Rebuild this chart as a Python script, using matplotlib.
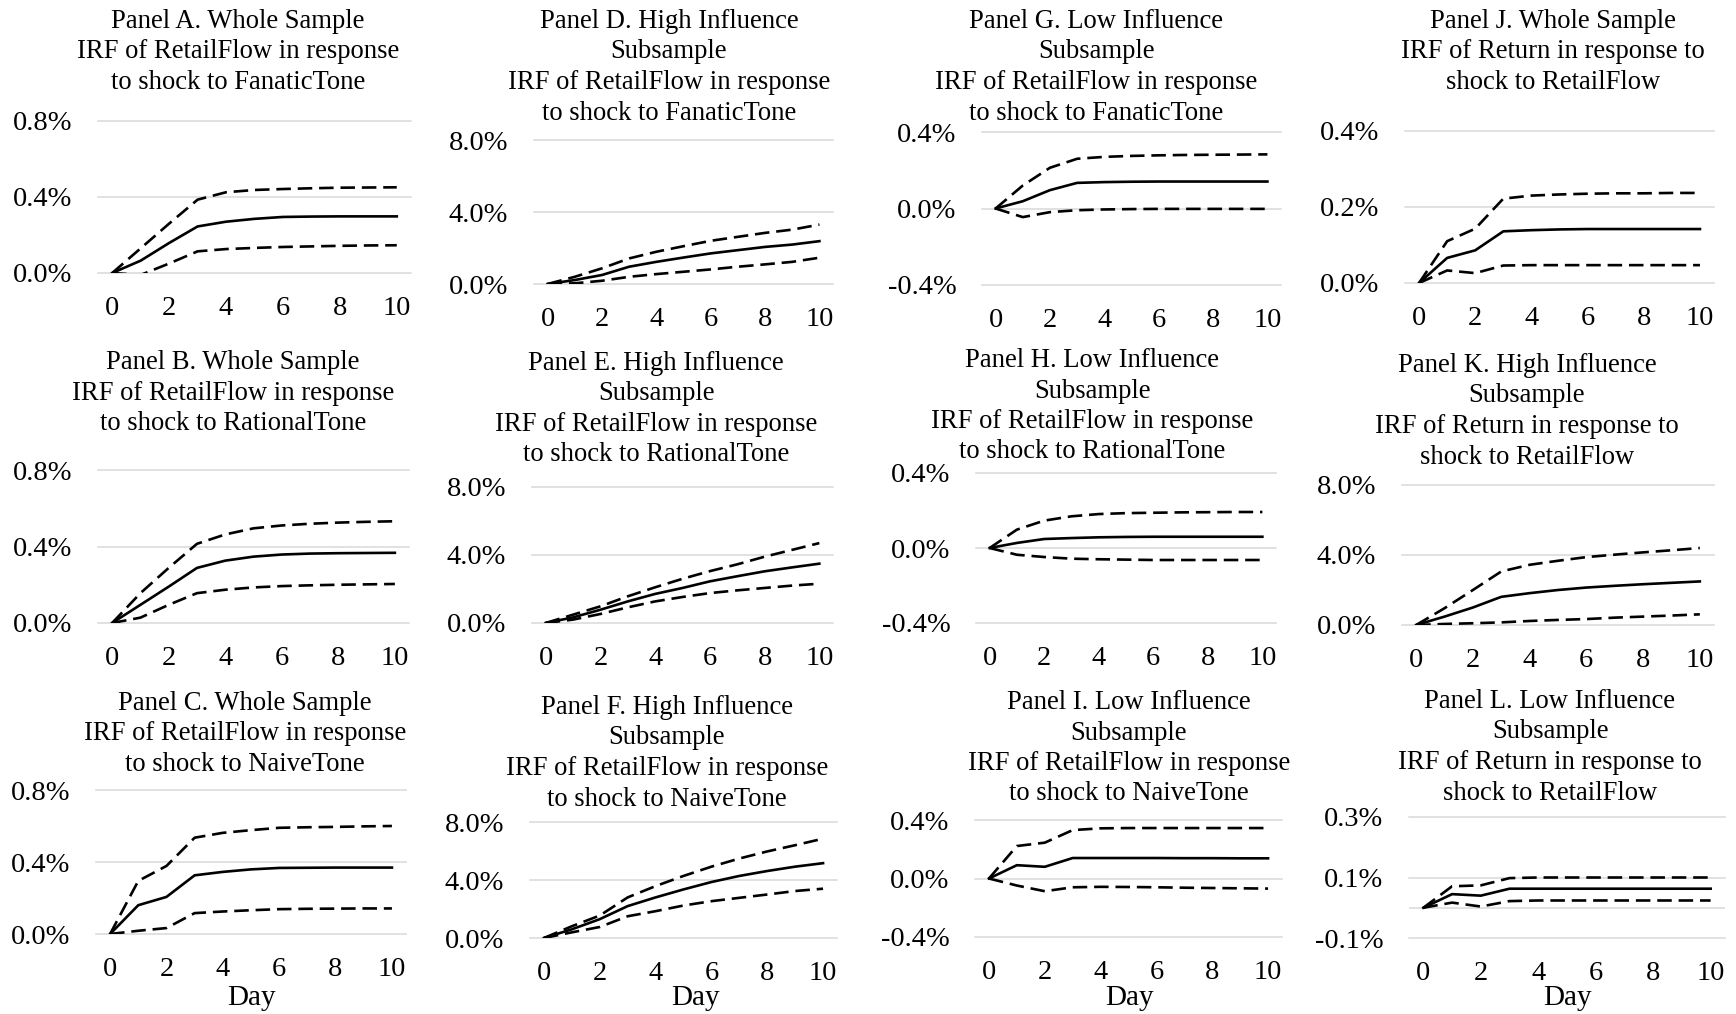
import matplotlib
matplotlib.use("Agg")
import matplotlib.pyplot as plt

plt.rcParams['font.family'] = ['Liberation Serif', 'DejaVu Serif']

# Horizon (days after the shock)
days = list(range(11))

# Impulse responses (in percent) with lower / upper confidence bands
a_irf = [0, 0.065, 0.158, 0.245, 0.270, 0.285, 0.295, 0.297, 0.298, 0.298, 0.298]
a_lo = [0, -0.010, 0.050, 0.114, 0.126, 0.132, 0.137, 0.140, 0.143, 0.145, 0.146]
a_hi = [0, 0.130, 0.260, 0.386, 0.425, 0.437, 0.442, 0.446, 0.449, 0.450, 0.451]

b_irf = [0, 0.095, 0.190, 0.288, 0.326, 0.347, 0.358, 0.363, 0.365, 0.366, 0.367]
b_lo = [0, 0.028, 0.095, 0.156, 0.174, 0.186, 0.193, 0.197, 0.200, 0.202, 0.204]
b_hi = [0, 0.156, 0.288, 0.414, 0.463, 0.495, 0.510, 0.519, 0.525, 0.529, 0.532]

c_irf = [0, 0.160, 0.206, 0.326, 0.345, 0.359, 0.367, 0.368, 0.369, 0.369, 0.369]
c_lo = [0, 0.018, 0.033, 0.116, 0.125, 0.132, 0.138, 0.140, 0.141, 0.142, 0.142]
c_hi = [0, 0.295, 0.378, 0.535, 0.562, 0.577, 0.590, 0.593, 0.595, 0.598, 0.600]

d_irf = [0, 0.22, 0.50, 0.96, 1.23, 1.47, 1.70, 1.88, 2.06, 2.19, 2.38]
d_lo = [0, 0.04, 0.18, 0.40, 0.55, 0.68, 0.81, 0.96, 1.09, 1.23, 1.46]
d_hi = [0, 0.40, 0.87, 1.42, 1.79, 2.10, 2.40, 2.62, 2.84, 3.02, 3.30]

e_irf = [0, 0.33, 0.78, 1.27, 1.71, 2.06, 2.45, 2.75, 3.04, 3.27, 3.49]
e_lo = [0, 0.20, 0.53, 0.92, 1.27, 1.53, 1.76, 1.92, 2.06, 2.20, 2.31]
e_hi = [0, 0.49, 0.98, 1.57, 2.10, 2.60, 3.05, 3.45, 3.90, 4.30, 4.70]

f_irf = [0, 0.60, 1.30, 2.20, 2.80, 3.35, 3.86, 4.28, 4.62, 4.92, 5.16]
f_lo = [0, 0.39, 0.76, 1.50, 1.85, 2.24, 2.54, 2.77, 3.00, 3.24, 3.40]
f_hi = [0, 0.81, 1.55, 2.80, 3.58, 4.28, 4.92, 5.48, 5.97, 6.40, 6.85]

g_irf = [0, 0.038, 0.096, 0.134, 0.138, 0.140, 0.141, 0.141, 0.141, 0.141, 0.141]
g_lo = [0, -0.045, -0.019, -0.009, -0.005, -0.003, -0.002, -0.002, -0.002, -0.002, -0.002]
g_hi = [0, 0.120, 0.213, 0.260, 0.270, 0.275, 0.278, 0.280, 0.281, 0.282, 0.283]

h_irf = [0, 0.027, 0.048, 0.053, 0.057, 0.059, 0.060, 0.060, 0.060, 0.060, 0.060]
h_lo = [0, -0.036, -0.048, -0.057, -0.060, -0.062, -0.064, -0.064, -0.064, -0.064, -0.064]
h_hi = [0, 0.098, 0.146, 0.169, 0.181, 0.186, 0.188, 0.190, 0.191, 0.192, 0.192]

i_irf = [0, 0.091, 0.080, 0.140, 0.140, 0.140, 0.140, 0.139, 0.139, 0.138, 0.138]
i_lo = [0, -0.048, -0.087, -0.060, -0.057, -0.058, -0.060, -0.063, -0.065, -0.067, -0.069]
i_hi = [0, 0.222, 0.245, 0.331, 0.343, 0.345, 0.345, 0.345, 0.345, 0.345, 0.345]

j_irf = [0, 0.066, 0.086, 0.136, 0.139, 0.141, 0.142, 0.142, 0.142, 0.142, 0.142]
j_lo = [0, 0.033, 0.026, 0.046, 0.047, 0.047, 0.047, 0.047, 0.047, 0.047, 0.047]
j_hi = [0, 0.110, 0.143, 0.222, 0.230, 0.233, 0.235, 0.236, 0.236, 0.237, 0.237]

k_irf = [0, 0.48, 1.00, 1.61, 1.82, 2.00, 2.14, 2.24, 2.33, 2.41, 2.49]
k_lo = [0, 0.06, 0.10, 0.15, 0.23, 0.29, 0.34, 0.42, 0.48, 0.54, 0.61]
k_hi = [0, 0.96, 2.00, 3.06, 3.44, 3.67, 3.88, 4.02, 4.15, 4.27, 4.40]

l_irf = [0, 0.045, 0.040, 0.063, 0.063, 0.063, 0.063, 0.063, 0.063, 0.063, 0.063]
l_lo = [0, 0.017, 0.004, 0.022, 0.024, 0.024, 0.024, 0.024, 0.024, 0.024, 0.024]
l_hi = [0, 0.071, 0.074, 0.098, 0.100, 0.100, 0.100, 0.100, 0.100, 0.100, 0.100]

# Panel titles
titles = {
    "A": "Panel A. Whole Sample\nIRF of RetailFlow in response\nto shock to FanaticTone",
    "B": "Panel B. Whole Sample\nIRF of RetailFlow in response\nto shock to RationalTone",
    "C": "Panel C. Whole Sample\nIRF of RetailFlow in response\nto shock to NaiveTone",
    "D": "Panel D. High Influence\nSubsample\nIRF of RetailFlow in response\nto shock to FanaticTone",
    "E": "Panel E. High Influence\nSubsample\nIRF of RetailFlow in response\nto shock to RationalTone",
    "F": "Panel F. High Influence\nSubsample\nIRF of RetailFlow in response\nto shock to NaiveTone",
    "G": "Panel G. Low Influence\nSubsample\nIRF of RetailFlow in response\nto shock to FanaticTone",
    "H": "Panel H. Low Influence\nSubsample\nIRF of RetailFlow in response\nto shock to RationalTone",
    "I": "Panel I. Low Influence\nSubsample\nIRF of RetailFlow in response\nto shock to NaiveTone",
    "J": "Panel J. Whole Sample\nIRF of Return in response to\nshock to RetailFlow",
    "K": "Panel K. High Influence\nSubsample\nIRF of Return in response to\nshock to RetailFlow",
    "L": "Panel L. Low Influence\nSubsample\nIRF of Return in response to\nshock to RetailFlow",
}

# Y-axis ticks per panel (percent)
yticks = {
    "A": [0.0, 0.4, 0.8], "B": [0.0, 0.4, 0.8], "C": [0.0, 0.4, 0.8],
    "D": [0.0, 4.0, 8.0], "E": [0.0, 4.0, 8.0], "F": [0.0, 4.0, 8.0],
    "G": [-0.4, 0.0, 0.4], "H": [-0.4, 0.0, 0.4], "I": [-0.4, 0.0, 0.4],
    "J": [0.0, 0.2, 0.4], "K": [0.0, 4.0, 8.0], "L": [-0.1, 0.1, 0.3],
}
xticks = [0, 2, 4, 6, 8, 10]

series = {
    "A": (a_irf, a_lo, a_hi), "B": (b_irf, b_lo, b_hi), "C": (c_irf, c_lo, c_hi),
    "D": (d_irf, d_lo, d_hi), "E": (e_irf, e_lo, e_hi), "F": (f_irf, f_lo, f_hi),
    "G": (g_irf, g_lo, g_hi), "H": (h_irf, h_lo, h_hi), "I": (i_irf, i_lo, i_hi),
    "J": (j_irf, j_lo, j_hi), "K": (k_irf, k_lo, k_hi), "L": (l_irf, l_lo, l_hi),
}

# Layout in pixels: plot box (x0, x1, ytop, ybottom), title centre x, first baseline y
W, H = 1736, 1014
layout = {
    "A": ((98, 411, 121, 273), 238, 28),
    "D": ((534, 833, 140, 284), 669, 28),
    "G": ((982, 1281, 132, 285), 1096, 28),
    "J": ((1405, 1714, 131, 283), 1553, 28),
    "B": ((98, 409, 470, 623), 233, 369),
    "E": ((532, 833, 487, 623), 656, 370),
    "H": ((976, 1276, 473, 623), 1092, 367),
    "K": ((1402, 1714, 485, 625), 1527, 372),
    "C": ((96, 406, 790, 934), 245, 710),
    "F": ((530, 837, 822, 938), 667, 714),
    "I": ((975, 1282, 820, 937), 1129, 709),
    "L": ((1409, 1725, 817, 938), 1550, 708),
}
day_labels = {"C": (251, 998), "F": (696, 998), "I": (1129, 998), "L": (1567, 998)}

TITLE_FS = 19.2
TICK_FS = 20.5
DAY_FS = 21
LINE_STEP = 30.5   # pixels between title lines
GRID = "#d9d9d9"
LW = 1.9

fig = plt.figure(figsize=(W / 100, H / 100), dpi=100)

for key, ((x0, x1, yt, yb), tx, ty) in layout.items():
    ax = fig.add_axes([x0 / W, 1 - yb / H, (x1 - x0) / W, (yb - yt) / H])
    irf, lo, hi = series[key]
    ticks = yticks[key]
    ax.set_xlim(-0.5, 10.5)
    ax.set_ylim(ticks[0], ticks[-1])
    ax.set_yticks(ticks)
    ax.set_yticklabels([f"{t:.1f}%" for t in ticks])
    ax.set_xticks(xticks)
    ax.set_xticklabels([str(t) for t in xticks])
    for t in ticks:
        ax.axhline(t, color=GRID, lw=1.1, zorder=0, clip_on=False)
    if ticks[0] < 0 < ticks[-1] and 0.0 not in ticks:
        ax.axhline(0, color=GRID, lw=1.1, zorder=0)
    ax.plot(days, hi, color="black", lw=LW, ls=(0, (5.5, 2.6)), dash_capstyle="butt")
    ax.plot(days, lo, color="black", lw=LW, ls=(0, (5.5, 2.6)), dash_capstyle="butt")
    ax.plot(days, irf, color="black", lw=LW, solid_joinstyle="round")
    for s in ax.spines.values():
        s.set_visible(False)
    ax.tick_params(axis="both", length=0, labelsize=TICK_FS, colors="black")
    ax.tick_params(axis="y", pad=18.5)
    ax.tick_params(axis="x", pad=16.5)
    ax.patch.set_alpha(0)
    for n, line in enumerate(titles[key].split("\n")):
        fig.text(tx / W, 1 - (ty + n * LINE_STEP) / H, line, ha="center",
                 va="baseline", fontsize=TITLE_FS)

for key, (dx, dy) in day_labels.items():
    fig.text(dx / W, 1 - dy / H, "Day", ha="center", va="center", fontsize=DAY_FS)

fig.savefig("out.png", dpi=100, facecolor="white")
